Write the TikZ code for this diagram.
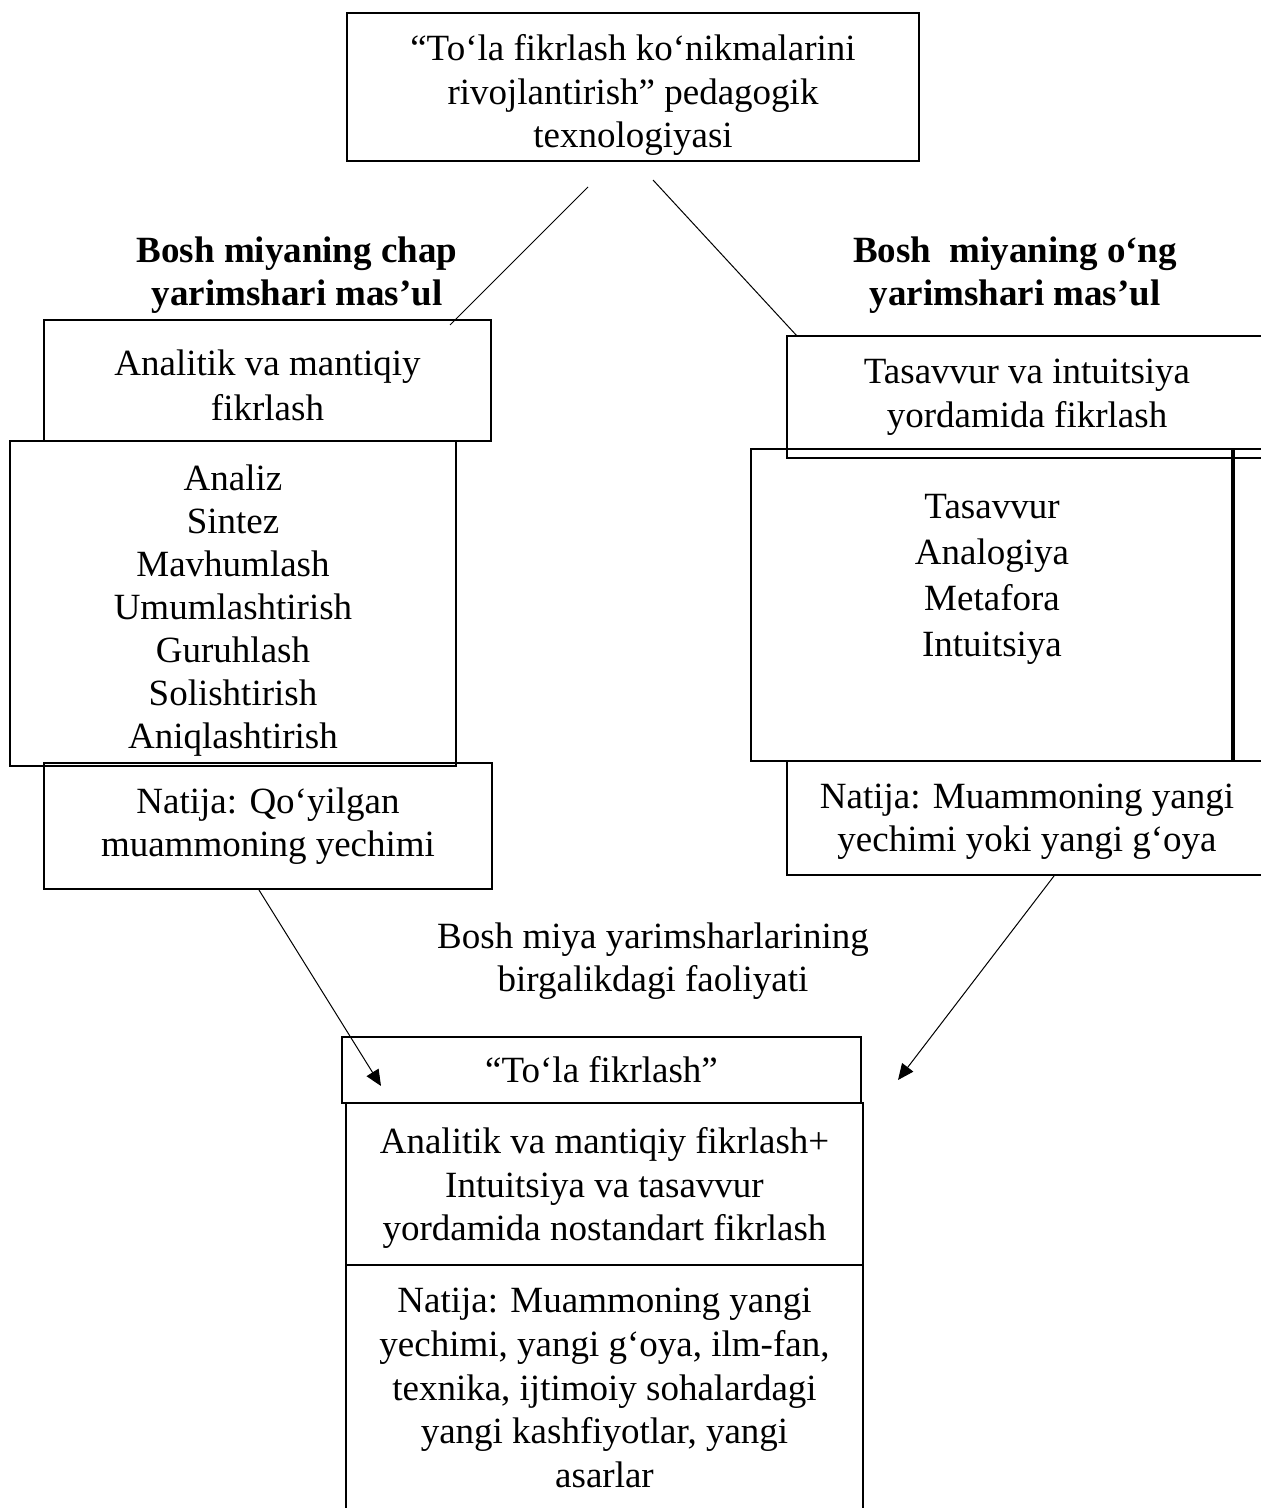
\documentclass[tikz,border=0pt]{standalone}
\usepackage{fontspec}
\setmainfont{Liberation Serif}
\usetikzlibrary{arrows.meta,calc}
\newcommand{\topgap}[1]{\rule{0pt}{#1}}

\begin{document}
\begin{tikzpicture}[x=0.5pt,y=-0.5pt,>={Triangle[length=8pt,width=7pt]},
		font=\fontsize{18.5}{21.8}\selectfont,
		box/.style={draw, line width=1pt, inner sep=0pt, align=center},
		lbl/.style={inner sep=0pt, align=center}]
						\useasboundingbox (0,0) rectangle (1260,1508);

						\node[box, minimum width=286pt, minimum height=74pt] (top) at (633,87) {\topgap{21pt}“To‘la fikrlash ko‘nikmalarini\\rivojlantirish” pedagogik\\texnologiyasi};

						\node[lbl, font=\fontsize{18.5}{21.8}\selectfont\bfseries] (hdL) at (297,275) {Bosh miyaning chap\\yarimshari mas’ul};
						\node[lbl, font=\fontsize{18.5}{21.8}\selectfont\bfseries] (hdR) at (1015,275) {Bosh\ \ miyaning o‘ng\\yarimshari mas’ul};

						\node[box, minimum width=223.5pt, minimum height=60.5pt, font=\fontsize{18.5}{22.5}\selectfont] (anL) at (267.5,380.5) {\topgap{18pt}Analitik va mantiqiy\\fikrlash};
						\node[box, minimum width=223pt, minimum height=162.5pt, font=\fontsize{18.5}{21.5}\selectfont] (listL) at (233,603.5) {\topgap{20pt}Analiz\\Sintez\\Mavhumlash\\Umumlashtirish\\Guruhlash\\Solishtirish\\Aniqlashtirish};
						\node[box, minimum width=224pt, minimum height=63pt] (natL) at (268,826) {Natija: Qo‘yilgan\\muammoning yechimi};

						\node[box, minimum width=240pt, minimum height=61pt] (tasR) at (1027,397) {Tasavvur va intuitsiya\\yordamida fikrlash};
						\node[box, minimum width=240.5pt, minimum height=156pt] (listR) at (991.5,605) {};
						\node[lbl, font=\fontsize{18.5}{23}\selectfont] (itemsR) at (992,579) {Tasavvur\\Analogiya\\Metafora\\Intuitsiya};
						\node[box, minimum width=40pt, minimum height=156pt, anchor=west] (sideR) at (listR.east) {};
						\node[box, minimum width=240pt, minimum height=57pt] (natR) at (1027,818) {\topgap{16pt}Natija: Muammoning yangi\\yechimi yoki yangi g‘oya};

						\node[lbl] (joint) at (653,961) {Bosh miya yarimsharlarining\\birgalikdagi faoliyati};

						\node[box, minimum width=259.5pt, minimum height=33pt] (tola) at (601.5,1070) {“To‘la fikrlash”};
						\node[box, minimum width=258.5pt, minimum height=81pt] (sum) at (604.5,1184) {\topgap{17pt}Analitik va mantiqiy fikrlash+\\Intuitsiya va tasavvur\\yordamida nostandart fikrlash};
						\node[box, minimum width=258.5pt, minimum height=123pt] (res) at (604.5,1388) {Natija: Muammoning yangi\\yechimi, yangi g‘oya, ilm-fan,\\texnika, ijtimoiy sohalardagi\\yangi kashfiyotlar, yangi\\asarlar};

						\coordinate (tl) at (588,187);
						\coordinate (bl) at (450,325);
						\coordinate (tr) at (653,180);
						\coordinate (br) at (797,336);
						\coordinate (aL) at ($(natL.south west)!0.48!(natL.south east)$);
						\coordinate (eL) at (381,1086);
						\coordinate (aR) at ($(natR.south west)!0.556!(natR.south east)$);
						\coordinate (eR) at (898,1080);

						\draw[line width=0.5pt] (tl) to (bl);
						\draw[line width=0.5pt] (tr) to (br);
						\draw[->, line width=0.5pt] (aL) to (eL);
						\draw[->, line width=0.5pt] (aR) to (eR);

					\end{tikzpicture}
\end{document}
